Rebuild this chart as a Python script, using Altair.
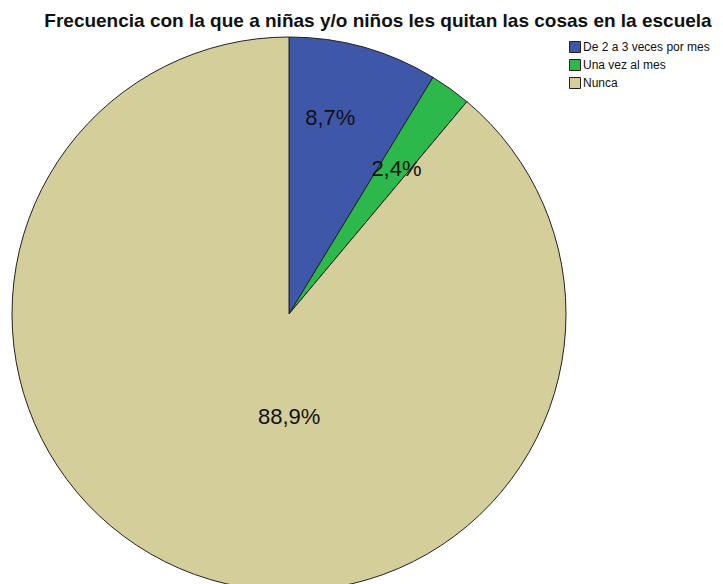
import altair as alt
import pandas as pd

categories = ["De 2 a 3 veces por mes", "Una vez al mes", "Nunca"]
percentages = [8.7, 2.4, 88.9]
labels = ["8,7%", "2,4%", "88,9%"]
colors = ["#3F57A9", "#2DB84B", "#D4CE9A"]

df = pd.DataFrame({
    "cat": categories,
    "pct": percentages,
    "label": labels,
    "ord": list(range(len(categories))),
})

color_scale = alt.Scale(domain=categories, range=colors)

base = alt.Chart(df).encode(
    theta=alt.Theta("pct:Q", stack=True),
    order=alt.Order("ord:Q"),
)

pie = base.mark_arc(outerRadius=277, stroke="#222222", strokeWidth=1).encode(
    color=alt.Color(
        "cat:N",
        scale=color_scale,
        sort=categories,
        legend=alt.Legend(
            title=None,
            orient="none",
            legendX=557,
            legendY=4,
            symbolType="square",
            symbolSize=121,
            symbolStrokeColor="#222222",
            symbolStrokeWidth=1,
            labelFont="Liberation Sans",
            labelFontSize=12,
            labelColor="#111111",
            rowPadding=2,
            labelOffset=2,
            labelLimit=300,
        ),
    )
)

label_style = [(201, -13, -2), (181, 2, 2), (102, 35, 7)]
texts = []
for cat, (r, ddx, ddy) in zip(categories, label_style):
    texts.append(
        base.mark_text(radius=r, dx=ddx, dy=ddy, font="Liberation Sans", fontSize=22, color="#111111")
        .encode(text="label:N", opacity=alt.condition(alt.datum.cat == cat, alt.value(1), alt.value(0)))
    )

chart = alt.layer(pie, *texts).properties(
    width=554,
    height=554,
    autosize=alt.AutoSizeParams(type="none"),
    padding={"left": 4, "top": 29, "right": 149, "bottom": 0},
    title=alt.TitleParams(
        "Frecuencia con la que a niñas y/o niños les quitan las cosas en la escuela",
        font="Liberation Sans",
        fontSize=19,
        fontWeight="bold",
        color="#111111",
        anchor="middle",
        dx=89,
        dy=21,
        offset=10,
        baseline="alphabetic",
    ),
).configure_view(stroke=None)

chart.save("out.html", embed_options={"renderer": "svg", "actions": False})
